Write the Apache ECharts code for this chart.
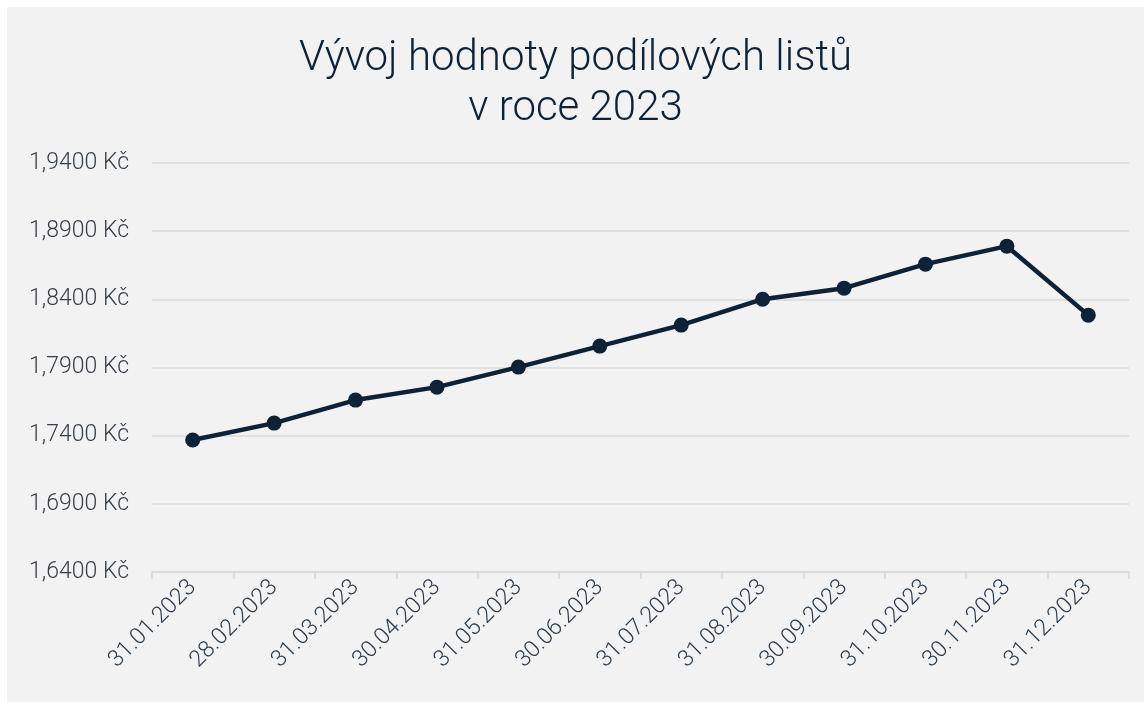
<!DOCTYPE html>
<html><head><meta charset="utf-8">
<script src="https://cdn.jsdelivr.net/npm/echarts@6/dist/echarts.min.js"></script>
<style>
html,body{margin:0;padding:0;background:#ffffff;}
#c{position:absolute;left:7px;top:7px;width:1137px;height:695px;}
</style></head>
<body><div id="c"></div>
<script>
const categories = ["31.01.2023","28.02.2023","31.03.2023","30.04.2023","31.05.2023","30.06.2023","31.07.2023","31.08.2023","30.09.2023","31.10.2023","30.11.2023","31.12.2023"];
const values = [1.7368,1.7492,1.7661,1.7756,1.7903,1.8057,1.8211,1.8401,1.8482,1.8658,1.8790,1.8284];
const yMin = 1.64, yMax = 1.94, yStep = 0.05;
const titleText = "Vývoj hodnoty podílových listů\nv roce 2023";

const chart = echarts.init(document.getElementById('c'), null, {renderer:'canvas'});
chart.setOption({
  backgroundColor:'#f2f2f2',
  animation:false,
  title:{text:titleText,left:'center',top:22,
    textStyle:{fontFamily:'Roboto',fontSize:42,fontWeight:300,color:'#0e2235',lineHeight:50}},
  grid:{left:145,right:15,top:156,bottom:130,containLabel:false},
  xAxis:{type:'category',data:categories,boundaryGap:true,
    axisLine:{lineStyle:{color:'#d9d9d9',width:1.5}},
    axisTick:{show:true,length:7,lineStyle:{color:'#d9d9d9',width:1.5}},
    axisLabel:{rotate:45,fontFamily:'Roboto',fontWeight:300,fontSize:23,color:'#2a3a4a',margin:12,interval:0}},
  yAxis:{type:'value',min:yMin,max:yMax,interval:yStep,
    axisLine:{show:false},axisTick:{show:false},
    splitLine:{lineStyle:{color:'#d9d9d9',width:1.5}},
    axisLabel:{fontFamily:'Roboto',fontWeight:300,fontSize:23,color:'#363f48',margin:23,
      formatter:v=>v.toFixed(4).replace('.',',')+' Kč'}},
  series:[{type:'line',data:values,symbol:'circle',symbolSize:15,
    lineStyle:{color:'#0d2137',width:4.5},itemStyle:{color:'#0d2137'}}]
});
</script></body></html>
